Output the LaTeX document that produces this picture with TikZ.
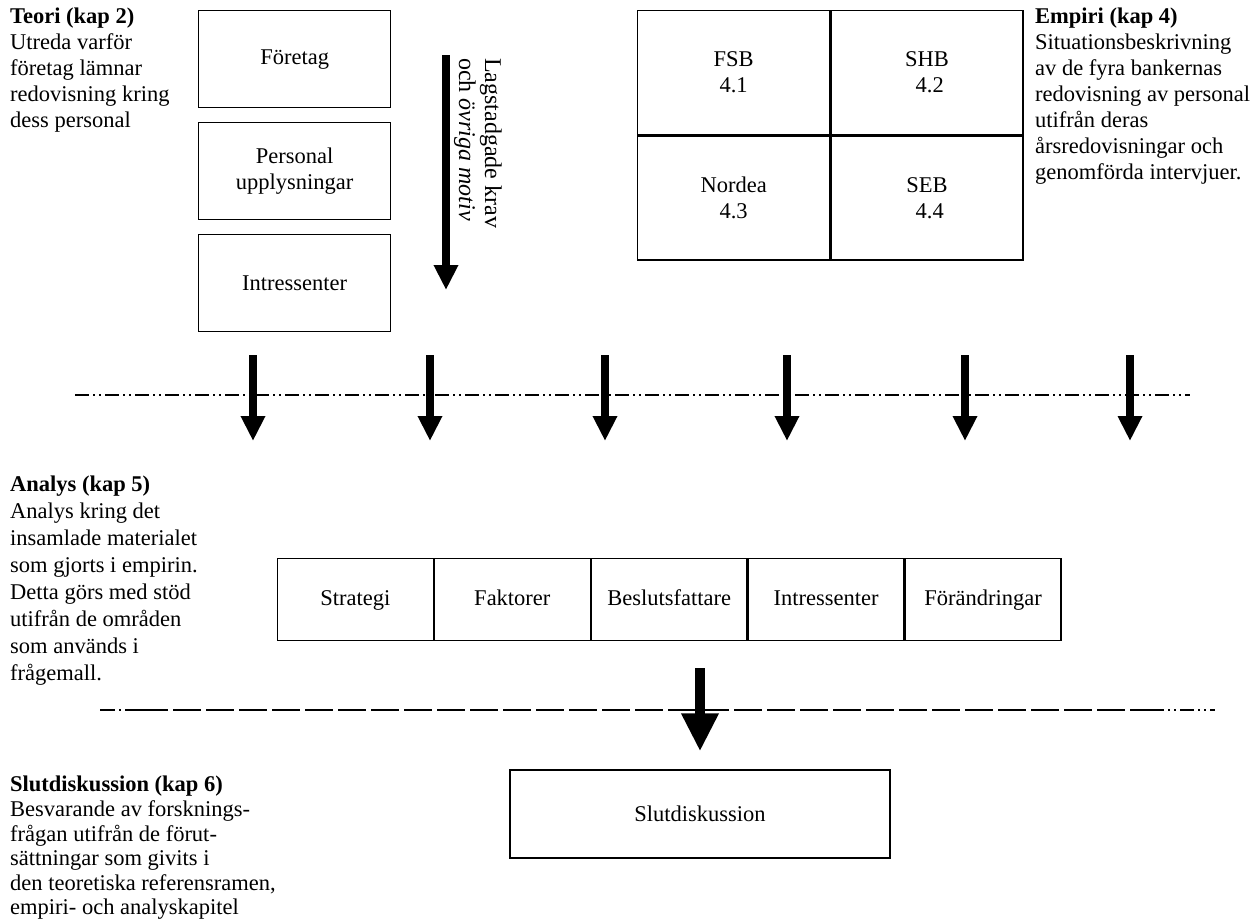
\documentclass[tikz,border=0pt]{standalone}
\usepackage{fontspec}
\setmainfont{Liberation Serif}
\usetikzlibrary{arrows.meta,positioning}
\tikzset{
  uppbox/.style={
    draw,
    line width=1.3pt,
    minimum width=192pt,
    minimum height=97pt,
    align=center,
    inner sep=0pt
  },
  uppcell/.style={
    uppbox,
    minimum height=124pt
  },
  upprow/.style={
    uppbox,
    minimum width=155.6pt,
    minimum height=82pt,
    text height=16pt,
    text depth=5pt
  },
  upptext/.style={align=left,inner sep=0pt,anchor=north west},
  upparrow/.style={-{Triangle[width=23pt,length=25pt]},line width=7.5pt},
  uppbig/.style={-{Triangle[width=35pt,length=38pt]},line width=10pt},
  uppline/.style={line width=2.4pt,dash pattern=on 14pt off 4pt on 2pt off 4pt on 2pt off 4pt},
  uppdash/.style={line width=2.4pt,dash pattern=on 28pt off 5pt}
}

\begin{document}
\begin{tikzpicture}[x=1pt,y=-1pt,font=\fontsize{22.5}{26}\selectfont,node distance=13.5pt]
  \useasboundingbox (0,0) rectangle (1256,919);

  % teori
  \node[upptext] (teori) at (10,8) {\textbf{Teori (kap 2)}\\Utreda varför\\företag lämnar\\redovisning kring\\dess personal};
  \node[uppbox,anchor=north west] (foretag) at (198,10) {Företag};
  \node[uppbox,below=of foretag] (personal) {Personal\\upplysningar};
  \node[uppbox,below=of personal] (intress) {Intressenter};
  \coordinate (lagtop) at (446,55);
  \coordinate (lagbot) at (446,290);
  \draw[upparrow] (lagtop) -- (lagbot);
  \node[rotate=-90,anchor=west,align=left,inner sep=0pt,font=\fontsize{24}{26}\selectfont] (lagkrav) at (478,58) {Lagstadgade krav\\och \textit{övriga motiv}};

  % empiri
  \node[uppcell,anchor=north west] (fsb) at (637,10) {FSB\\4.1};
  \node[uppcell,right=0pt of fsb] (shb) {SHB\\\ 4.2};
  \node[uppcell,below=0pt of fsb] (nordea) {Nordea\\4.3};
  \node[uppcell,right=0pt of nordea] (seb) {SEB\\\ 4.4};
  \node[upptext] (empiri) at (1035,8) {\textbf{Empiri (kap 4)}\\Situationsbeskrivning\\av de fyra bankernas\\redovisning av personal\\utifrån deras\\årsredovisningar och\\genomförda intervjuer.};

  % forsta gransen
  \coordinate (la) at (75,395);
  \coordinate (lb) at (1190,395);
  \draw[uppline] (la) -- (lb);
  \foreach \x [count=\i] in {253,430,605,787,965,1130} {
    \coordinate (pa\i) at (\x,355);
    \coordinate (pb\i) at (\x,441);
    \draw[upparrow] (pa\i) -- (pb\i);
  }

  % analys
  \node[upptext,font=\fontsize{22.5}{27}\selectfont] (analys) at (10,476) {\textbf{Analys (kap 5)}\\Analys kring det\\insamlade materialet\\som gjorts i empirin.\\Detta görs med stöd\\utifrån de områden\\som används i\\frågemall.};
  \node[upprow,anchor=north west] (strategi) at (277,558) {Strategi};
  \node[upprow,right=0pt of strategi] (faktorer) {Faktorer};
  \node[upprow,right=0pt of faktorer] (beslut) {Beslutsfattare};
  \node[upprow,right=0pt of beslut] (intress2) {Intressenter};
  \node[upprow,right=0pt of intress2] (forandr) {Förändringar};

  % andra gransen
  \coordinate (ma) at (100,710);
  \coordinate (mb) at (140,710);
  \coordinate (mc) at (1150,710);
  \coordinate (md) at (1215,710);
  \draw[uppline,dash pattern=on 15pt off 4pt on 2pt off 4pt] (ma) -- (mb);
  \draw[uppdash] (mb) -- (mc);
  \draw[uppline] (mc) -- (md);

  % slutdiskussion
  \node[upptext,font=\fontsize{22.5}{24.6}\selectfont] (slutdisk) at (10,776) {\textbf{Slutdiskussion (kap 6)}\\Besvarande av forsknings-\\frågan utifrån de förut-\\sättningar som givits i\\den teoretiska referensramen,\\empiri- och analyskapitel};
  \node[uppbox,minimum width=380pt,minimum height=88pt] (slut) at (700,814) {Slutdiskussion};
  \coordinate (sa) at (700,668);
  \draw[uppbig] (sa) -- ([yshift=18pt]slut.north);
\end{tikzpicture}
\end{document}
